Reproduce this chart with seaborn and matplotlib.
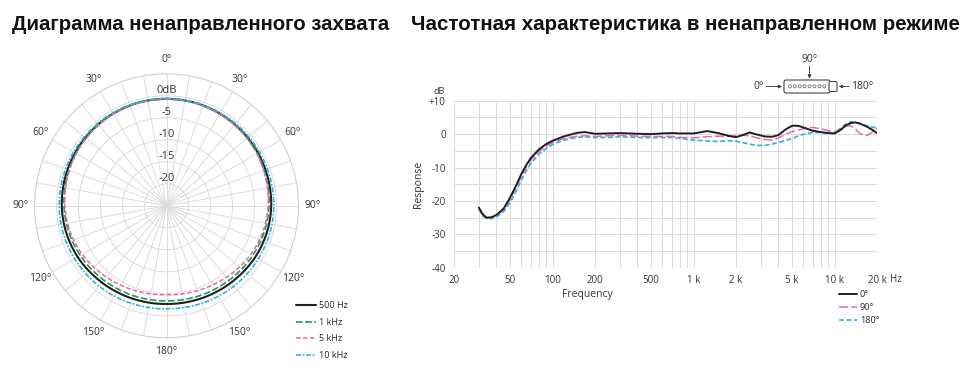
import numpy as np
import pandas as pd
import matplotlib
matplotlib.use("Agg")
import matplotlib.pyplot as plt
import seaborn as sns
from matplotlib.patches import FancyBboxPatch, Circle
from matplotlib.ticker import LogLocator, NullFormatter, MultipleLocator, FixedLocator
from matplotlib.lines import Line2D

# ---------------- data: polar pickup pattern (dB) ----------------
polar_angles = [0, 15, 30, 45, 60, 75, 90, 105, 120, 135, 150, 165, 180,
                195, 210, 225, 240, 255, 270, 285, 300, 315, 330, 345, 360]
pattern_500hz = [-0.7, -0.7, -0.8, -0.9, -1.0, -1.1, -1.2, -1.4, -1.7, -2.1, -2.4, -2.6, -2.7,
                 -2.6, -2.4, -2.1, -1.7, -1.4, -1.2, -1.1, -1.0, -0.9, -0.8, -0.7, -0.7]
pattern_1khz = [-0.7, -0.7, -0.8, -1.0, -1.2, -1.5, -1.7, -2.0, -2.4, -2.8, -3.1, -3.3, -3.4,
                -3.3, -3.1, -2.8, -2.4, -2.0, -1.7, -1.5, -1.2, -1.0, -0.8, -0.7, -0.7]
pattern_5khz = [-0.8, -0.8, -0.9, -1.1, -1.3, -1.6, -1.9, -2.3, -2.9, -3.6, -4.2, -4.6, -4.8,
                -4.6, -4.2, -3.6, -2.9, -2.3, -1.9, -1.6, -1.3, -1.1, -0.9, -0.8, -0.8]
pattern_10khz = [-0.6, -0.6, -0.6, -0.6, -0.6, -0.6, -0.6, -0.7, -0.9, -1.1, -1.3, -1.5, -1.6,
                 -1.5, -1.3, -1.1, -0.9, -0.7, -0.6, -0.6, -0.6, -0.6, -0.6, -0.6, -0.6]
polar_labels = ["500 Hz", "1 kHz", "5 kHz", "10 kHz"]
angle_tick_labels = ["0°", "30°", "60°", "90°", "120°", "150°", "180°",
                     "150°", "120°", "90°", "60°", "30°"]
ring_levels = [0, -5, -10, -15, -20]
ring_labels = ["0dB", "-5", "-10", "-15", "-20"]

# ---------------- data: frequency response (dB) ----------------
freq_hz = [30, 32, 34, 37, 40, 45, 50, 55, 60, 65, 70, 80, 90, 100, 120, 150, 170, 200, 250, 300,
           400, 500, 600, 700, 800, 1000, 1250, 1500, 1800, 2000, 2200, 2500, 2800, 3200, 3600,
           4000, 4500, 5000, 5500, 6000, 7000, 8000, 9000, 10000, 11000, 12000, 13000, 14000,
           15000, 16000, 17000, 18000, 19000, 20000]
resp_0deg = [-22, -24, -25, -24.9, -24.2, -22.3, -19, -15.5, -12, -9.3, -7.2, -4.6, -3, -2, -0.7,
             0.4, 0.6, 0.1, 0.2, 0.3, 0.1, 0, 0.2, 0.3, 0.2, 0.2, 0.9, 0.3, -0.6, -0.9,
             -0.4, 0.5, -0.1, -0.7, -0.8, -0.3, 1.4, 2.5, 2.5, 2.0, 1.0, 0.6, 0.3, 0.2, 1.2,
             2.6, 3.3, 3.5, 3.2, 2.7, 2.2, 1.6, 1.0, 0.3]
resp_90deg = [-22, -24.2, -25.1, -25, -24.4, -22.7, -19.5, -16, -12.6, -9.9, -7.8, -5.2, -3.6, -2.5,
              -1.3, -0.6, -0.5, -0.7, -0.5, -0.4, -0.6, -0.7, -0.7, -0.7, -1.0, -1.1, -0.8, -0.6,
              -0.6, -0.5, -0.3, -0.5, -1.1, -1.6, -1.8, -1.2, 0, 0.7, 1.2, 1.6, 2.0, 1.6, 1.0,
              0.6, 1.3, 2.3, 2.5, 1.5, 0.3, -0.3, -0.4, 0.2, 1.0, 1.7]
resp_180deg = [-22.5, -24.5, -25.3, -25.3, -24.8, -23.2, -20.5, -17.2, -13.8, -11, -8.8, -6, -4.3,
               -3.1, -1.8, -1.0, -0.8, -1.0, -1.0, -0.8, -1.0, -1.1, -1.0, -1.0, -1.3, -1.8,
               -2.1, -2.2, -2.0, -2.1, -2.5, -3.0, -3.4, -3.4, -3.0, -2.5, -1.9, -1.3, -0.6,
               -0.1, 0.5, 0.5, 0.3, 0.2, 1.8, 3.0, 3.7, 3.5, 3.1, 2.8, 2.5, 2.2, 2.0, 2.0]
resp_labels = ["0°", "90°", "180°"]
freq_ticks = [20, 50, 100, 200, 500, 1000, 2000, 5000, 10000, 20000]
freq_tick_labels = ["20", "50", "100", "200", "500", "1 k", "2 k", "5 k", "10 k", "20 k"]
db_ticks = [-40, -30, -20, -10, 0, 10]
db_tick_labels = ["-40", "-30", "-20", "-10", "0", "+10"]

title_left = "Диаграмма ненаправленного захвата"
title_right = "Частотная характеристика в ненаправленном режиме"

# ---------------- style ----------------
sns.set_theme(style="white")
plt.rcParams["font.family"] = ["Open Sans", "DejaVu Sans"]
TXT = "#333333"
GRID = "#dcdcdc"
C_BLACK = "#231f20"
C_GREEN = "#1f9a55"
C_PINK = "#e56aa6"
C_CYAN = "#2bb4d8"

W, H = 972, 372
fig = plt.figure(figsize=(W / 100, H / 100), dpi=100)
fig.patch.set_facecolor("white")


def fx(x):
    return x / W


def fy(y):
    return 1 - y / H


# ---------------- polar chart ----------------
cx, cy, R = 166.5, 205.8, 132.0
axp = fig.add_axes([fx(cx - R), fy(cy + R), 2 * R / W, 2 * R / H], projection="polar")
axp.set_theta_zero_location("N")
axp.set_theta_direction(-1)
axp.set_ylim(-25, 5)
axp.set_yticks([-20, -15, -10, -5, 0])
axp.set_yticklabels([])
tick_deg = np.arange(0, 360, 10)
axp.set_xticks(np.deg2rad(tick_deg))
lab_map = {d: l for d, l in zip(range(0, 360, 30), angle_tick_labels)}
axp.set_xticklabels([lab_map.get(int(d), "") for d in tick_deg], fontsize=7.5, color=TXT)
axp.tick_params(axis="x", pad=-3)
axp.grid(True, color=GRID, lw=0.7)
axp.spines["polar"].set_color("#d0d0d0")
axp.spines["polar"].set_linewidth(0.8)

theta = np.deg2rad(polar_angles)
polar_series = [
    (pattern_500hz, C_BLACK, "-", 1.5),
    (pattern_1khz, C_GREEN, (0, (4, 1.5)), 1.2),
    (pattern_5khz, C_PINK, (0, (3, 1.5)), 1.1),
    (pattern_10khz, C_CYAN, (0, (3, 1, 1, 1)), 1.2),
]
polar_handles = []
for (vals, col, ls, lw), lab in zip(polar_series, polar_labels):
    sns.lineplot(x=theta, y=vals, ax=axp, sort=False, estimator=None,
                 color=col, linestyle=ls, linewidth=lw)
    polar_handles.append(Line2D([], [], color=col, linestyle=ls, linewidth=lw, label=lab))
# draw the segments between samples as arcs (polar interpolation)
for ln in axp.lines:
    ln.get_path()._interpolation_steps = 30
axp.set_xlabel("")
axp.set_ylabel("")
if axp.get_legend():
    axp.get_legend().remove()
for lvl, lab in zip(ring_levels, ring_labels):
    axp.text(0, lvl + 1.3, lab, ha="center", va="center", fontsize=8, color=TXT)

fig.legend(handles=polar_handles, loc="upper left", bbox_to_anchor=(fx(296), fy(301)),
           frameon=False, fontsize=6.5, handlelength=2.2, handletextpad=0.3,
           labelspacing=0.85, borderaxespad=0, borderpad=0)

# ---------------- frequency response ----------------
ax = fig.add_axes([fx(454), fy(267.7), (877 - 454) / W, (267.7 - 100.7) / H])
df = pd.DataFrame({"freq": freq_hz * 3,
                   "resp": resp_0deg + resp_90deg + resp_180deg,
                   "angle": [resp_labels[0]] * len(freq_hz) + [resp_labels[1]] * len(freq_hz)
                   + [resp_labels[2]] * len(freq_hz)})
resp_styles = {resp_labels[0]: (C_BLACK, "-", 1.4),
               resp_labels[1]: (C_PINK, (0, (6, 2)), 1.1),
               resp_labels[2]: (C_CYAN, (0, (3, 1.5)), 1.2)}
resp_handles = []
for lab in [resp_labels[2], resp_labels[1], resp_labels[0]]:
    col, ls, lw = resp_styles[lab]
    sub = df[df["angle"] == lab]
    sns.lineplot(data=sub, x="freq", y="resp", ax=ax, estimator=None, sort=False,
                 color=col, linestyle=ls, linewidth=lw)
for lab in resp_labels:
    col, ls, lw = resp_styles[lab]
    resp_handles.append(Line2D([], [], color=col, linestyle=ls, linewidth=lw, label=lab))
if ax.get_legend():
    ax.get_legend().remove()
ax.set_xscale("log")
ax.set_xlim(20, 20000)
ax.set_ylim(-40, 10)
ax.xaxis.set_major_locator(FixedLocator(freq_ticks))
ax.set_xticklabels(freq_tick_labels)
ax.xaxis.set_minor_locator(LogLocator(base=10, subs=np.arange(2, 10)))
ax.xaxis.set_minor_formatter(NullFormatter())
ax.set_yticks(db_ticks)
ax.set_yticklabels(db_tick_labels)
ax.yaxis.set_minor_locator(MultipleLocator(5))
ax.tick_params(which="both", length=0, labelsize=7, colors=TXT)
ax.tick_params(axis="y", pad=6)
ax.tick_params(axis="x", pad=5)
ax.grid(True, which="both", color=GRID, lw=0.8)
for s in ax.spines.values():
    s.set_visible(False)
ax.set_xlabel("")
ax.set_ylabel("")

fig.text(fx(418), fy(184), "Response", rotation=90, ha="center", va="center", fontsize=7.5, color=TXT)
fig.text(fx(587), fy(294), "Frequency", ha="center", va="center", fontsize=7.5, color=TXT)
fig.text(fx(890), fy(279), "Hz", ha="left", va="center", fontsize=7, color=TXT)
fig.text(fx(439), fy(91), "dB", ha="center", va="center", fontsize=6.5, color=TXT)

fig.legend(handles=resp_handles, loc="upper left", bbox_to_anchor=(fx(839), fy(290)),
           frameon=False, fontsize=6.5, handlelength=2.0, handletextpad=0.3,
           labelspacing=0.45, borderaxespad=0, borderpad=0)

# ---------------- overlay: microphone icon ----------------
ov = fig.add_axes([0, 0, 1, 1])
ov.set_xlim(0, W)
ov.set_ylim(H, 0)
ov.set_axis_off()
ov.patch.set_alpha(0)
ov.add_patch(FancyBboxPatch((784, 80), 46, 13, boxstyle="round,pad=0,rounding_size=2",
                            fc="white", ec="#444444", lw=0.8))
ov.add_patch(FancyBboxPatch((829, 81.5), 8, 10, boxstyle="round,pad=0,rounding_size=1.5",
                            fc="white", ec="#444444", lw=0.8))
for i in range(8):
    ov.add_patch(Circle((790 + i * 4.9, 86.3), 1.5, fc="white", ec="#777777", lw=0.6))
arrow_kw = dict(arrowstyle="-|>", color="#333333", lw=0.6, mutation_scale=5, shrinkA=0, shrinkB=0)
ov.annotate("", xy=(782, 86.5), xytext=(766, 86.5), arrowprops=arrow_kw)
ov.annotate("", xy=(839, 86.5), xytext=(849, 86.5), arrowprops=arrow_kw)
ov.annotate("", xy=(809.5, 78.5), xytext=(809.5, 66), arrowprops=arrow_kw)
ov.text(764, 86.5, "0°", ha="right", va="center", fontsize=7.5, color=TXT)
ov.text(851, 86.5, "180°", ha="left", va="center", fontsize=7.5, color=TXT)
ov.text(809.5, 60, "90°", ha="center", va="center", fontsize=7.5, color=TXT)


# ---------------- titles (fit to measured width) ----------------
def fit_title(x0, x1, ybase, s):
    t = fig.text(fx(x0), fy(ybase), s, ha="left", va="baseline", fontsize=14,
                 fontweight="bold", family=["Liberation Sans", "DejaVu Sans"], color="#111111")
    fig.canvas.draw()
    bb = t.get_window_extent()
    t.set_fontsize(14 * (x1 - x0) / bb.width)
    return t


fit_title(12, 392, 30, title_left)
fit_title(411, 961, 30, title_right)

fig.savefig("out.png", dpi=100, facecolor="white")
